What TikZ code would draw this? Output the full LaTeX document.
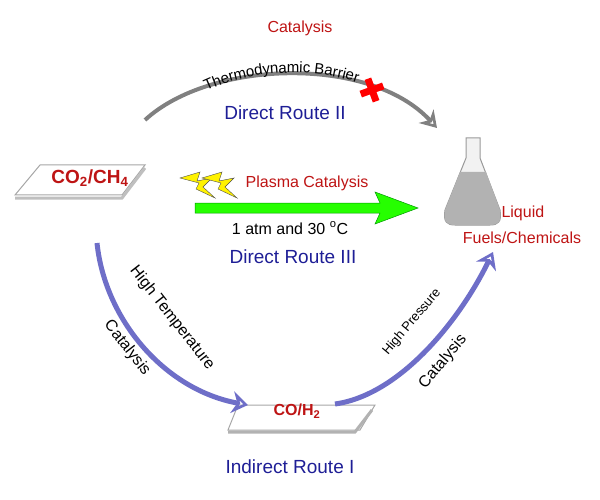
\documentclass[tikz,border=0pt]{standalone}
\usepackage{fontspec}
\setmainfont{Liberation Sans}
\usetikzlibrary{arrows.meta,decorations.text}
\definecolor{myred}{RGB}{190,20,20}
\definecolor{myblue}{RGB}{30,30,150}
\definecolor{arrowblue}{RGB}{110,110,200}
\begin{document}
\begin{tikzpicture}[x=1pt,y=-1pt,
  lab/.style={font=\fontsize{16}{18}\selectfont},
  redlab/.style={lab,text=myred},
  bluelab/.style={font=\fontsize{19}{21}\selectfont,text=myblue},
  blarrow/.style={draw=arrowblue,line width=5pt,-{Stealth[length=16pt,width=22pt,open]}},
  box/.style={fill=white,draw=gray!70,line width=1pt}]
\useasboundingbox (0,0) rectangle (600,500);
% top
\node[redlab] (cat) at (300,28) {Catalysis};
\coordinate (a1) at (145,120);
\coordinate (a2) at (437,128);
\draw[draw=gray,line width=4pt,-{Stealth[length=16pt,width=20pt,open]}] (a1) .. controls (210,60) and (370,55) .. (a2);
\node[fill=red,minimum width=7pt,minimum height=24pt,inner sep=0pt,rotate=20] (x1) at (372,90) {};
\node[fill=red,minimum width=24pt,minimum height=7pt,inner sep=0pt,rotate=20] (x2) at (372,90) {};
\path[decorate,decoration={text along path,text={|\fontsize{15}{17}\selectfont|Thermodynamic Barrier},text align=center,raise=-3pt}] (155,124) .. controls (220,54) and (350,54) .. (412,110);
\node[bluelab] (r2) at (285,113) {Direct Route II};
% CO2/CH4
\draw[box] (40,165) -- (145,165) -- (122,195) -- (15,195) -- cycle;
\draw[gray!50,line width=3pt] (15,198) -- (122,198) -- (145,168);
\node[font=\bfseries\fontsize{19}{21}\selectfont,text=myred] (co2) at (90,178) {CO\textsubscript{2}/CH\textsubscript{4}};
% lightning
\foreach \dx in {0,22}{
\draw[fill=yellow,draw=black!70] (180+\dx,178) -- (200+\dx,172) -- (197+\dx,181) -- (212+\dx,178) -- (203+\dx,187) -- (215+\dx,198) -- (196+\dx,189) -- (199+\dx,183) -- cycle;}
\node[redlab] (pc) at (307,183) {Plasma Catalysis};
\coordinate (g1) at (195,208);
\coordinate (g2) at (418,208);
\draw[draw=green!60!black,fill=green!80!lime,line width=0.5pt] (195,203) -- (380,203) -- (375,192) -- (418,208) -- (375,224) -- (380,213) -- (195,213) -- cycle;
\node[lab] (atm) at (290,228) {1 atm and 30 \textsuperscript{o}C};
\node[bluelab] (r3) at (293,257) {Direct Route III};
% flask
\draw[gray!80,fill=gray!10,line width=1pt] (466,138) -- (480,138) -- (480,158) -- (500,210) .. controls (502,222) and (498,225) .. (490,225) -- (455,225) .. controls (447,225) and (443,222) .. (445,210) -- (466,158) -- cycle;
\fill[gray!60] (460,172) -- (486,172) -- (500,210) .. controls (502,222) and (498,225) .. (490,225) -- (455,225) .. controls (447,225) and (443,222) .. (445,210) -- cycle;
\node[redlab,anchor=west] (liq) at (498,213) {Liquid};
\node[redlab] (fuel) at (522,238) {Fuels/Chemicals};
% indirect
\draw[box] (228,430) -- (360,430) -- (375,405) -- (238,405) -- cycle;
\draw[gray!60,line width=3pt] (228,432) -- (355,432) -- (372,410);
\node[font=\bfseries\fontsize{16}{18}\selectfont,text=myred] (coh) at (297,411) {CO/H\textsubscript{2}};
\coordinate (b1) at (97,243);
\coordinate (b2) at (248,405);
\draw[blarrow] (b1) .. controls (105,320) and (165,390) .. (b2);
\node[lab,rotate=-52] (ht) at (172,318) {High Temperature};
\node[lab,rotate=-52] (c1) at (127,348) {Catalysis};
\coordinate (c3) at (335,404);
\coordinate (c4) at (493,252);
\draw[blarrow] (c3) .. controls (400,395) and (460,320) .. (c4);
\node[font=\fontsize{13}{15}\selectfont,rotate=50] (hp) at (412,322) {High Pressure};
\node[lab,rotate=50] (c2) at (443,362) {Catalysis};
\node[bluelab] (r1) at (290,467) {Indirect Route I};
\end{tikzpicture}
\end{document}
